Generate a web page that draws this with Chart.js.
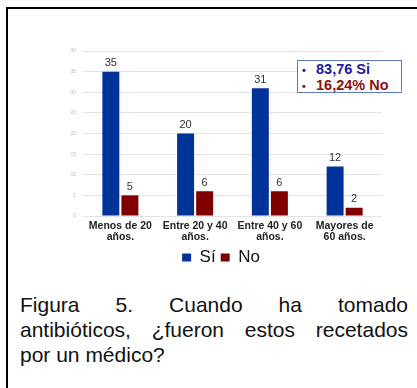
<!DOCTYPE html>
<html>
<head>
<meta charset="utf-8">
<script src="https://cdn.jsdelivr.net/npm/chart.js@4"></script>
<style>
  body { margin: 0; background: #fff; font-family: "Liberation Sans", Arial, sans-serif; }
  #frame { position: absolute; left: 6px; top: 7px; width: 420px; height: 400px; border-left: 2px solid #000; border-top: 2px solid #000; }
  #wrap { position: absolute; left: 60px; top: 40px; width: 340px; height: 240px; }
  #note { position: absolute; left: 297px; top: 60px; width: 105px; height: 33px; border: 1px solid #5b7bbf; background: #fff;
          font-weight: bold; font-size: 14.5px; line-height: 15px; box-sizing: border-box; padding: 1px 0 0 4px; white-space: nowrap; }
  #note .si { color: #1a1aa6; }
  #note .no { color: #8b1010; }
  #note b { display: inline-block; width: 14px; font-size: 11px; }
  #caption { position: absolute; left: 20px; top: 292px; width: 388px; font-size: 21px; line-height: 25px; color: #111; }
  #caption .j { display: block; text-align: justify; text-align-last: justify; }
</style>
</head>
<body>
<div id="frame"></div>
<div id="wrap"><canvas id="chart" width="340" height="240"></canvas></div>
<div id="note"><div class="si"><b>&bull;</b>83,76 Si</div><div class="no"><b>&bull;</b>16,24% No</div></div>
<div id="caption"><span class="j">Figura 5. Cuando ha tomado</span><span class="j">antibióticos, ¿fueron estos recetados</span><span>por un médico?</span></div>
<script>
const categories = [['Menos de 20', 'años.'], ['Entre 20 y 40', 'años.'], ['Entre 40 y 60', 'años.'], ['Mayores de', '60 años.']];
const siValues = [35, 20, 31, 12];
const noValues = [5, 6, 6, 2];
const yTicks = [0, 5, 10, 15, 20, 25, 30, 35, 40];

// etiquetas encima de las barras
const valueLabels = {
  id: 'valueLabels',
  afterDatasetsDraw(chart) {
    const ctx = chart.ctx;
    ctx.save();
    ctx.font = '11px "Liberation Sans", Arial';
    ctx.fillStyle = '#333';
    ctx.textAlign = 'center';
    ctx.textBaseline = 'bottom';
    chart.data.datasets.forEach((ds, i) => {
      chart.getDatasetMeta(i).data.forEach((bar, j) => {
        ctx.fillText(ds.data[j], bar.x, bar.y - 3);
      });
    });
    ctx.restore();
  }
};

new Chart(document.getElementById('chart'), {
  type: 'bar',
  data: {
    labels: categories,
    datasets: [
      { label: 'Sí', data: siValues, backgroundColor: '#003399', categoryPercentage: 0.51, barPercentage: 0.89 },
      { label: 'No', data: noValues, backgroundColor: '#800000', categoryPercentage: 0.51, barPercentage: 0.89 }
    ]
  },
  options: {
    responsive: false,
    animation: false,
    layout: { padding: { top: 11, right: 18, bottom: 4, left: 0 } },
    scales: {
      x: {
        grid: { display: false, drawTicks: false },
        border: { display: false },
        ticks: { autoSkip: false, color: '#222', font: { family: '"Liberation Sans", Arial', size: 10.5, weight: 'bold', lineHeight: 1.05 }, padding: 5, maxRotation: 0 },
        afterFit(scale) { scale.height = 28; }
      },
      y: {
        min: 0, max: 40,
        afterBuildTicks(scale) { scale.ticks = yTicks.map(v => ({ value: v })); },
        grid: { color: '#e3e3e3', drawTicks: false },
        border: { display: false },
        ticks: { color: '#bbb', font: { size: 5 }, padding: 7 },
        afterFit(scale) { scale.width = 23; }
      }
    },
    plugins: {
      legend: {
        position: 'bottom',
        labels: { boxWidth: 9, boxHeight: 8, padding: 5, color: '#111', font: { family: '"Liberation Sans", Arial', size: 17 } }
      },
      tooltip: { enabled: false }
    }
  },
  plugins: [valueLabels]
});
</script>
</body>
</html>
